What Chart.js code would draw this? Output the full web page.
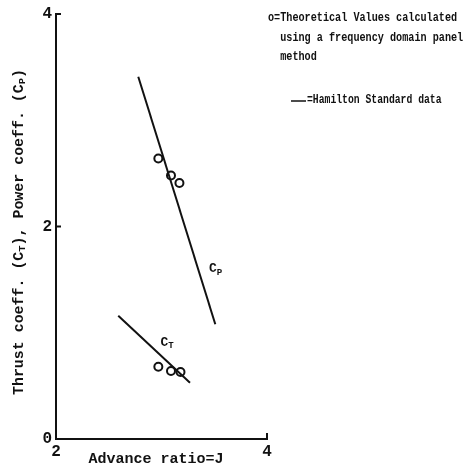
<!DOCTYPE html>
<html>
<head>
<meta charset="utf-8">
<script src="https://cdn.jsdelivr.net/npm/chart.js@4.4.0/dist/chart.umd.min.js"></script>
<style>
  html, body { margin: 0; padding: 0; background: #fff; }
  #wrap { width: 471px; height: 469px; }
</style>
</head>
<body>
<div id="wrap"><canvas id="myChart" width="471" height="469"></canvas></div>
<script>
// ------------------------ data ------------------------
const cpLineJ = [2.78, 3.51]
const cpLineC = [3.41, 1.08]
const ctLineJ = [2.59, 3.27]
const ctLineC = [1.16, 0.53]

const cpTheoryJ = [2.97, 3.09, 3.17]
const cpTheoryC = [2.64, 2.48, 2.41]
const ctTheoryJ = [2.97, 3.09, 3.18]
const ctTheoryC = [0.68, 0.64, 0.63]

const xTicks = [2, 4]
const yTicks = [0, 2, 4]

const legendLines = [
  'o=Theoretical Values calculated',
  '  using a frequency domain panel',
  '  method'
]
const legendHamilton = '=Hamilton Standard data'

const toPoints = (xs, ys) => xs.map((x, i) => ({ x: x, y: ys[i] }))

const ink = '#111'
const mono = '"Liberation Mono", "DejaVu Sans Mono", monospace'

// draws text with subscript parts, returns width
const drawParts = (ctx, parts, x, y, size) => {
  let cx = x
  parts.forEach((p) => {
    const s = p.sub ? size * 0.7 : size
    ctx.font = `bold ${s}px ${mono}`
    ctx.fillText(p.t, cx, p.sub ? y + size * 0.25 : y)
    cx += ctx.measureText(p.t).width
  })
  return cx - x
}
const measureParts = (ctx, parts, size) => {
  let w = 0
  parts.forEach((p) => {
    ctx.font = `bold ${p.sub ? size * 0.7 : size}px ${mono}`
    w += ctx.measureText(p.t).width
  })
  return w
}

// ------------------------ annotations plugin ------------------------
const annotations = {
  id: 'annotations',
  afterDraw(chart) {
    const ctx = chart.ctx
    const xs = chart.scales.x
    const ys = chart.scales.y
    const area = chart.chartArea
    ctx.save()
    ctx.fillStyle = ink
    ctx.strokeStyle = ink
    ctx.textBaseline = 'middle'

    // inward tick marks
    ctx.lineWidth = 2
    ;[2, 4].forEach((v) => {
      const py = ys.getPixelForValue(v)
      ctx.beginPath(); ctx.moveTo(area.left, py); ctx.lineTo(area.left + 5, py); ctx.stroke()
    })
    const px4 = xs.getPixelForValue(4)
    ctx.beginPath(); ctx.moveTo(px4, area.bottom); ctx.lineTo(px4, area.bottom - 6); ctx.stroke()

    // curve labels
    const cpx = xs.getPixelForValue(3.45), cpy = ys.getPixelForValue(1.6)
    drawParts(ctx, [{ t: 'C' }, { t: 'P', sub: true }], cpx, cpy, 13)
    const ctx2 = xs.getPixelForValue(2.99), cty = ys.getPixelForValue(0.91)
    drawParts(ctx, [{ t: 'C' }, { t: 'T', sub: true }], ctx2, cty, 13)

    // legend text
    ctx.font = `bold 13.5px ${mono}`
    legendLines.forEach((line, i) => {
      ctx.fillText(line, 268, 18 + i * 19.5, line.length * 6.1)
    })
    ctx.lineWidth = 1.5
    ctx.beginPath(); ctx.moveTo(291, 101); ctx.lineTo(306, 101); ctx.stroke()
    ctx.fillText(legendHamilton, 307, 100, legendHamilton.length * 5.85)

    // x title
    ctx.font = `bold 15px ${mono}`
    ctx.textAlign = 'center'
    ctx.fillText('Advance ratio=J', 156, 459, 146)

    // y title (rotated)
    const yParts = [
      { t: 'Thrust coeff. (C' }, { t: 'T', sub: true },
      { t: '), Power coeff. (C' }, { t: 'P', sub: true }, { t: ')' }
    ]
    ctx.textAlign = 'left'
    ctx.translate(19, 232)
    ctx.rotate(-Math.PI / 2)
    const w = measureParts(ctx, yParts, 14)
    const sx = 326 / w
    ctx.scale(sx, 1)
    drawParts(ctx, yParts, -w / 2, 0, 14)
    ctx.restore()
  }
}

// ------------------------ chart ------------------------
const lineStyle = { showLine: true, borderColor: ink, borderWidth: 2, pointRadius: 0, fill: false }
const dotStyle = { showLine: false, pointRadius: 4, pointBorderWidth: 2, pointBorderColor: ink, pointBackgroundColor: '#fff' }

const chartConfig = {
  type: 'scatter',
  data: {
    datasets: [
      { ...lineStyle, data: toPoints(cpLineJ, cpLineC) },
      { ...lineStyle, data: toPoints(ctLineJ, ctLineC) },
      { ...dotStyle, data: toPoints(cpTheoryJ, cpTheoryC) },
      { ...dotStyle, data: toPoints(ctTheoryJ, ctTheoryC) }
    ]
  },
  options: {
    responsive: false,
    animation: false,
    layout: { padding: { top: 14, right: 204, left: 0, bottom: 0 } },
    plugins: { legend: { display: false }, tooltip: { enabled: false } },
    scales: {
      x: {
        type: 'linear', min: 2, max: 4,
        afterBuildTicks: (s) => { s.ticks = xTicks.map((v) => ({ value: v })) },
        afterFit: (s) => { s.height = 30 },
        grid: { display: false, tickLength: 0 },
        border: { display: true, color: ink, width: 2 },
        ticks: { color: ink, font: { family: mono, size: 16, weight: 'bold' }, padding: 3, maxRotation: 0 }
      },
      y: {
        type: 'linear', min: 0, max: 4,
        afterBuildTicks: (s) => { s.ticks = yTicks.map((v) => ({ value: v })) },
        afterFit: (s) => { s.width = 56 },
        grid: { display: false, tickLength: 0 },
        border: { display: true, color: ink, width: 2 },
        ticks: { color: ink, font: { family: mono, size: 16, weight: 'bold' }, padding: 4 }
      }
    }
  },
  plugins: [annotations]
}

const chartCanvas = document.getElementById('myChart')
const myChart = new Chart(chartCanvas, chartConfig)
</script>
</body>
</html>
